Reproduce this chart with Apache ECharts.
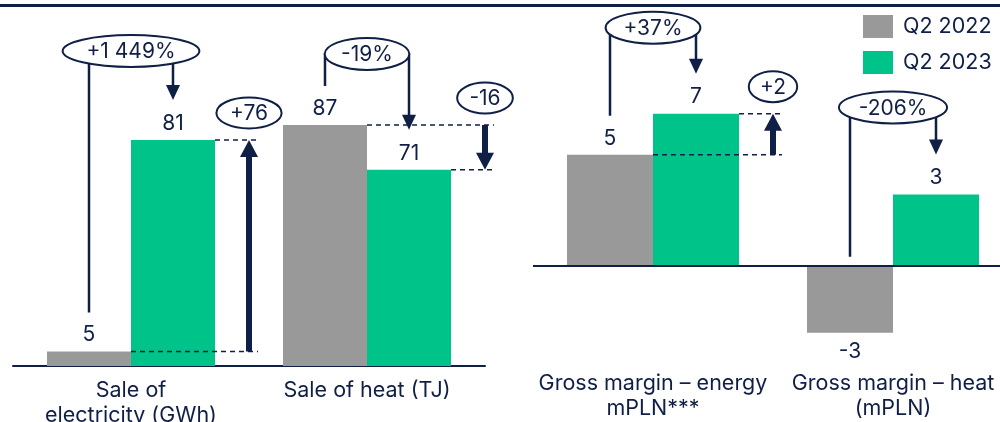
<!DOCTYPE html>
<html>
<head>
<meta charset="utf-8">
<script src="https://cdn.jsdelivr.net/npm/echarts@6/dist/echarts.min.js"></script>
<style>
  html, body { margin: 0; padding: 0; background: #fff; }
  #main { width: 1000px; height: 422px; }
</style>
</head>
<body>
<div id="main"></div>
<script>
// 数据
const volumeCats = ['Sale of\nelectricity (GWh)', 'Sale of heat (TJ)'];
const volume2022 = [5.25, 86.7];
const volume2023 = [81.3, 70.6];
const volumePct = ['+1 449%', '-19%'];
const volumeDiff = ['+76', '-16'];

const marginCats = ['Gross margin \u2013 energy\nmPLN***', 'Gross margin \u2013 heat\n(mPLN)'];
const margin2022 = [5.03, -3.04];
const margin2023 = [6.89, 3.23];
const marginPct = ['+37%', '-206%'];
const marginDiff = ['+2', null];

const seriesNames = ['Q2 2022', 'Q2 2023'];

const NAVY = '#0f1f45';
const GRAY = '#999999';
const GREEN = '#00c389';
const FONT = 'Inter';

const chart = echarts.init(document.getElementById('main'));

// 柱子数据，负值标签放下面
function barData(arr) {
    return arr.map(v => ({
        value: v,
        label: { position: v < 0 ? 'bottom' : 'top', distance: v < 0 ? 8 : 6 }
    }));
}

function barSeries(name, values, color, idx, width) {
    return {
        name: name,
        type: 'bar',
        xAxisIndex: idx,
        yAxisIndex: idx,
        barWidth: width,
        barGap: '0%',
        itemStyle: { color: color },
        label: {
            show: true,
            color: NAVY,
            fontFamily: FONT,
            fontSize: 21,
            formatter: p => Math.round(p.value)
        },
        data: barData(values)
    };
}

const panels = [
    { cats: volumeCats, prev: volume2022, curr: volume2023, pct: volumePct, diff: volumeDiff, width: 84, lift: [89, 71] },
    { cats: marginCats, prev: margin2022, curr: margin2023, pct: marginPct, diff: marginDiff, width: 86, lift: [86, 87] }
];

const axisLabel = { color: NAVY, fontFamily: FONT, fontSize: 21.5, lineHeight: 25 };

const option = {
    animation: false,
    backgroundColor: '#fff',
    legend: {
        data: seriesNames,
        orient: 'vertical',
        left: 863,
        top: 15,
        padding: 0,
        itemWidth: 30,
        itemHeight: 23,
        itemGap: 13,
        icon: 'rect',
        textStyle: { color: NAVY, fontFamily: FONT, fontSize: 21.5, padding: [0, 0, 0, 5] }
    },
    grid: [
        { left: 13, width: 472, top: 88, height: 278, outerBoundsMode: 'none' },
        { left: 533, width: 480, top: 45, height: 309, outerBoundsMode: 'none' }
    ],
    xAxis: [
        {
            type: 'category', gridIndex: 0, data: volumeCats,
            axisLine: { lineStyle: { color: NAVY, width: 2 } },
            axisTick: { show: false },
            axisLabel: Object.assign({ margin: 12, interval: 0 }, axisLabel)
        },
        {
            type: 'category', gridIndex: 1, data: marginCats,
            axisLine: { show: false },
            axisTick: { show: false },
            axisLabel: Object.assign({ margin: 17, interval: 0 }, axisLabel)
        }
    ],
    yAxis: [
        { type: 'value', gridIndex: 0, min: 0, max: 100, show: false, splitLine: { show: false } },
        { type: 'value', gridIndex: 1, min: -4, max: 10, show: false, splitLine: { show: false } }
    ],
    series: [
        barSeries(seriesNames[0], volume2022, GRAY, 0, 84),
        barSeries(seriesNames[1], volume2023, GREEN, 0, 84),
        barSeries(seriesNames[0], margin2022, GRAY, 1, 86),
        Object.assign(barSeries(seriesNames[1], margin2023, GREEN, 1, 86), {
            markLine: {
                silent: true,
                symbol: 'none',
                label: { show: false },
                lineStyle: { color: NAVY, width: 2, type: 'solid' },
                data: [{ yAxis: 0 }]
            }
        })
    ]
};

chart.setOption(option);

// 测量文字宽度
const measureCtx = document.createElement('canvas').getContext('2d');
function textWidth(t) {
    measureCtx.font = '21px ' + FONT;
    return measureCtx.measureText(t).width;
}

// 注释：百分比气泡、差值箭头、虚线
function buildNotes() {
    const g = [];
    const line = (pts, w, dash) => g.push({
        type: 'polyline', z: 10, z2: 1, silent: true,
        shape: { points: pts },
        style: { stroke: NAVY, lineWidth: w, fill: null, lineDash: dash || null }
    });
    const tri = (x, tip, dir, hw, hh) => g.push({
        type: 'polygon', z: 10, z2: 1, silent: true,
        shape: { points: [[x - hw, tip - dir * hh], [x + hw, tip - dir * hh], [x, tip]] },
        style: { fill: NAVY }
    });
    const bubble = (cx, cy, txt, ry) => {
        const rx = textWidth(txt) * 0.7 + 6;
        g.push({
            type: 'ellipse', z: 10, z2: 2, silent: true,
            shape: { cx: cx, cy: cy, rx: rx, ry: ry },
            style: { fill: '#fff', stroke: NAVY, lineWidth: 2 }
        });
        g.push({
            type: 'text', z: 10, z2: 3, silent: true,
            x: cx, y: cy + 1,
            style: { text: txt, fill: NAVY, font: '21px ' + FONT, align: 'center', verticalAlign: 'middle' }
        });
    };

    // 顶部横线
    g.push({ type: 'rect', z: 10, silent: true, shape: { x: 0, y: 4, width: 1000, height: 3 }, style: { fill: NAVY } });

    panels.forEach((p, pi) => {
        p.cats.forEach((c, ci) => {
            const a = p.prev[ci], b = p.curr[ci];
            const pa = chart.convertToPixel({ gridIndex: pi }, [ci, a]);
            const pb = chart.convertToPixel({ gridIndex: pi }, [ci, b]);
            const p0 = chart.convertToPixel({ gridIndex: pi }, [ci, 0]);
            const cx = pa[0];
            const w = p.width;
            const ya = pa[1], yb = pb[1], y0 = p0[1];
            const xa = cx - w / 2, xb = cx + w / 2;

            // 百分比气泡
            const cy = Math.min(ya, yb) - p.lift[ci];
            const endL = a >= 0 ? ya - 39 : y0 - 9;
            line([[xa, endL], [xa, cy], [cx, cy]], 2.5);
            const tip = yb - 40;
            line([[cx, cy], [xb, cy], [xb, tip - 12]], 2.5);
            tri(xb, tip, 1, 7, 15);
            bubble(cx, cy, p.pct[ci], 16);

            // 差值箭头
            if (p.diff[ci]) {
                const ax = cx + w + 34;
                line([[cx, ya], [ax + 9, ya]], 1.5, [5, 4]);
                line([[cx + w, yb], [ax + 9, yb]], 1.5, [5, 4]);
                const dir = yb < ya ? -1 : 1;
                line([[ax, ya], [ax, yb - dir * 14]], 6);
                tri(ax, yb, dir, 9, 17);
                bubble(ax, Math.min(ya, yb) - 27, p.diff[ci], 15.5);
            }
        });
    });
    return g;
}

chart.setOption({ graphic: buildNotes() });

window.addEventListener('resize', function () {
    chart.resize();
    chart.setOption({ graphic: buildNotes() });
});
</script>
</body>
</html>
